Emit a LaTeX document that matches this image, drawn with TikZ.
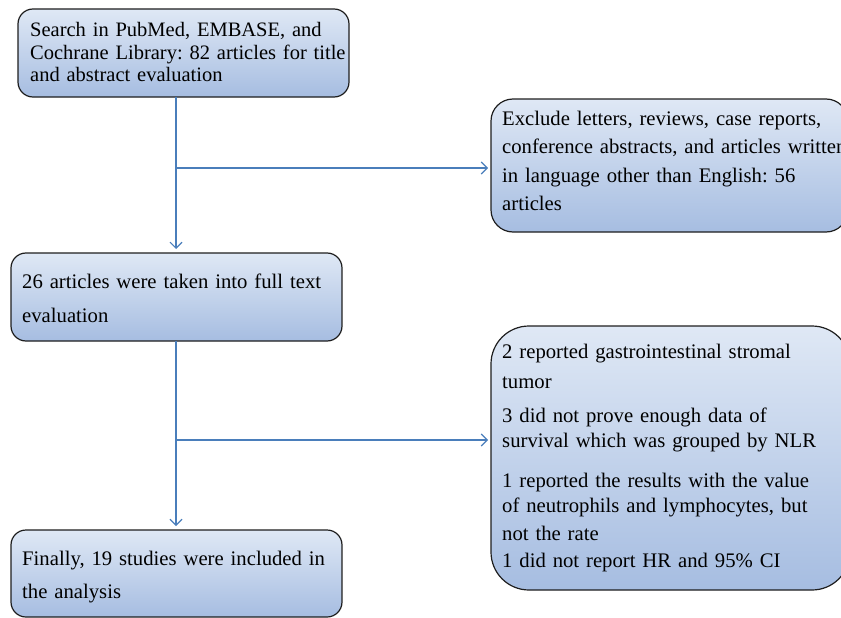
\documentclass[tikz,border=0pt]{standalone}
\usepackage{fontspec}
\setmainfont{Liberation Serif}
\usetikzlibrary{arrows.meta}
\frenchspacing
\definecolor{boxtop}{RGB}{223,232,245}
\definecolor{boxbot}{RGB}{166,189,225}
\definecolor{boxline}{RGB}{30,30,30}
\definecolor{conncol}{RGB}{74,126,187}
\tikzset{
  box/.style={draw=boxline, line width=1.2pt, top color=boxtop, bottom color=boxbot,
    anchor=north west, inner sep=0pt, outer sep=0pt},
  txt/.style={anchor=base west, inner sep=0pt, align=left, text width=420pt, text=black,
    execute at begin node=\frenchspacing},
  conn/.style={draw=conncol, line width=1.1pt, -{Straight Barb[length=6pt,width=12pt]}},
  plain/.style={draw=conncol, line width=1.1pt}
}
\begin{document}
\begin{tikzpicture}[x=1pt,y=-1pt]
\useasboundingbox (0,0) rectangle (841,618);
\clip (0,0) rectangle (841,618);
% boxes
\node[box, rounded corners=15pt, minimum width=331pt, minimum height=88pt] (b1) at (18,9) {};
\node[box, rounded corners=22pt, minimum width=357pt, minimum height=133pt] (b2) at (491,99) {};
\node[box, rounded corners=15pt, minimum width=331pt, minimum height=88pt] (b3) at (11,253) {};
\node[box, rounded corners=38pt, minimum width=359pt, minimum height=264pt] (b4) at (491,326) {};
\node[box, rounded corners=15pt, minimum width=331pt, minimum height=87pt] (b5) at (11,530) {};
% texts
\node[txt, font={\fontsize{20.5}{22.5}\selectfont}] (t1) at (30,37)
  {Search in PubMed, EMBASE, and\\Cochrane Library: 82 articles for title\\and abstract evaluation};
\node[txt, font={\fontsize{20.7}{28.5}\selectfont}] (t2) at (502,125)
  {Exclude letters, reviews, case reports,\\conference abstracts, and articles written\\in language other than English: 56\\articles};
\node[txt, font={\fontsize{20.7}{34}\selectfont}] (t3) at (22,288)
  {26 articles were taken into full text\\evaluation};
\node[txt, font={\fontsize{20.7}{25}\selectfont}] (t4) at (502,358)
  {2 reported gastrointestinal stromal\\[5pt]tumor\\[9pt]3 did not prove enough data of\\survival which was grouped by NLR\\[15pt]1 reported the results with the value\\of neutrophils and lymphocytes, but\\[3pt]not the rate\\[2pt]1 did not report HR and 95\% CI};
\node[txt, font={\fontsize{20.7}{33}\selectfont}] (t5) at (22,565)
  {Finally, 19 studies were included in\\the analysis};
% connectors
\coordinate (j1) at (176,168);
\coordinate (j2) at (176,440);
\draw[conn, shorten >=4pt] (b1.south -| j1) -- (b3.north -| j1);
\draw[conn, shorten >=3pt] (j1) -- (b2.west |- j1);
\draw[conn, shorten >=4pt] (b3.south -| j2) -- (b5.north -| j2);
\draw[conn, shorten >=3pt] (j2) -- (b4.west |- j2);
\end{tikzpicture}
\end{document}
